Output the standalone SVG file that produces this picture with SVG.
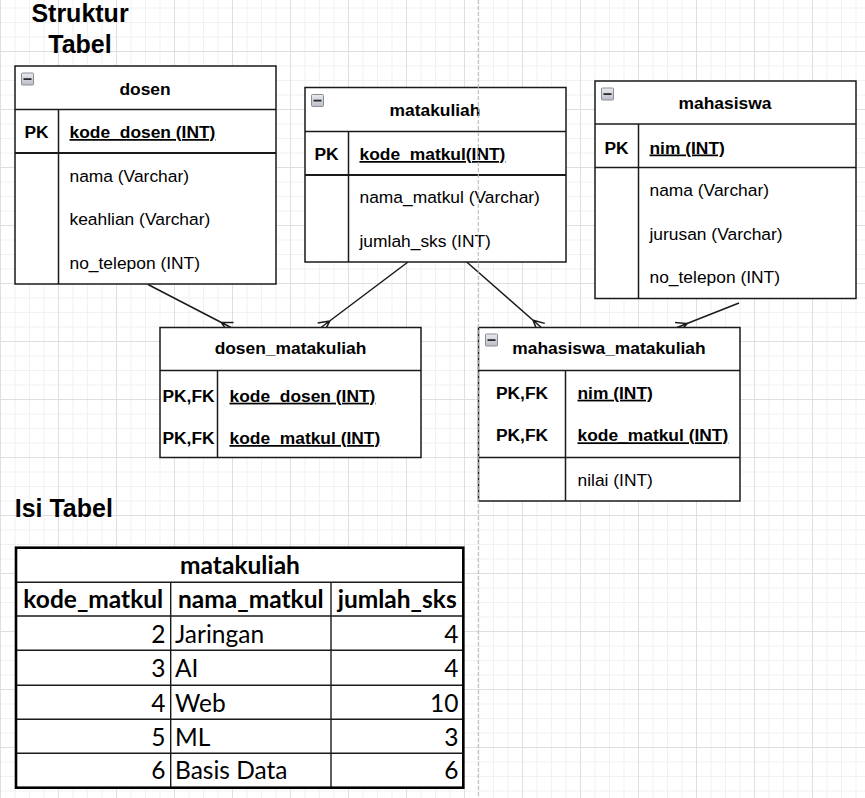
<svg xmlns="http://www.w3.org/2000/svg" xmlns:xlink="http://www.w3.org/1999/xlink" width="865" height="798" viewBox="0 0 865 798">
<style>
.t{font-family:"Liberation Sans",Arial,sans-serif;font-size:17.4px;fill:#000}
.b{font-weight:bold}
.u{text-decoration:underline}
.c{text-anchor:middle}
.r{text-anchor:end}
.h{font-family:"Liberation Sans",Arial,sans-serif;font-size:25px;font-weight:bold;fill:#000}
.x{font-family:Lato,"Open Sans",sans-serif;font-size:24.5px;fill:#000}
.box{fill:#fff;stroke:#1a1a1a;stroke-width:1.5}
.ln{stroke:#1a1a1a;stroke-width:1.5;fill:none}
.pk{stroke:#1a1a1a;stroke-width:2.2;fill:none}
.edge{stroke:#1a1a1a;stroke-width:1.5;fill:none;stroke-linejoin:miter}
.xl{stroke:#1a1a1a;stroke-width:1.4;fill:none}
</style>
<defs>
<pattern id="grid" patternUnits="userSpaceOnUse" x="0" y="-7" width="58" height="58">
<rect x="0" y="0" width="58" height="58" fill="#fff"/>
<rect x="14.5" y="0" width="1" height="58" fill="#f1f1f1"/>
<rect x="29" y="0" width="1" height="58" fill="#f1f1f1"/>
<rect x="43.5" y="0" width="1" height="58" fill="#f1f1f1"/>
<rect x="0" y="14.5" width="58" height="1" fill="#f1f1f1"/>
<rect x="0" y="29" width="58" height="1" fill="#f1f1f1"/>
<rect x="0" y="43.5" width="58" height="1" fill="#f1f1f1"/>
<rect x="0" y="0" width="1" height="58" fill="#dfdfdf"/>
<rect x="0" y="0" width="58" height="1" fill="#dfdfdf"/>
</pattern>
<linearGradient id="ig" x1="0" y1="0" x2="0" y2="1">
<stop offset="0" stop-color="#e9ebef"/>
<stop offset="1" stop-color="#b9bdc6"/>
</linearGradient>
<g id="minus">
<rect x="0.5" y="0.5" width="12" height="12" rx="1" fill="url(#ig)" stroke="#8a8e97" stroke-width="1"/>
<rect x="2.5" y="5.7" width="8" height="1.8" fill="#2a2a2a"/>
</g>
</defs>

<rect x="0" y="0" width="865" height="798" fill="url(#grid)"/>

<g id="title-struktur">
<text class="h c" x="80" y="21.7">Struktur</text>
<text class="h c" x="80" y="53.3">Tabel</text>
</g>

<g id="connectors">
<path class="edge" d="M148,284.5 L231,327.5 M233.5,322.6 L221.2,322.4 L228.5,332.4"/>
<path class="edge" d="M408,262 L321,327.5 M317.7,323.1 L329.8,320.9 L324.3,331.9"/>
<path class="edge" d="M466.7,262 L541.3,327.5 M544.8,323.4 L533,320.2 L537.6,331.6"/>
<path class="edge" d="M739,303 L677,327.5 M675,322.4 L687.2,323.5 L679,332.6"/>
</g>

<g id="dosen">
<rect class="box" x="15" y="66" width="261" height="218"/>
<line class="ln" x1="15" y1="109.5" x2="276" y2="109.5"/>
<line class="pk" x1="15" y1="153" x2="276" y2="153"/>
<line class="ln" x1="58.5" y1="109.5" x2="58.5" y2="284"/>
<use xlink:href="#minus" href="#minus" x="21" y="72.5"/>
<text class="t b c" x="145" y="95">dosen</text>
<text class="t b c" x="36.5" y="138">PK</text>
<text class="t b u" x="69.5" y="138">kode_dosen (INT)</text>
<text class="t" x="69.5" y="182">nama (Varchar)</text>
<text class="t" x="69.5" y="225.3">keahlian (Varchar)</text>
<text class="t" x="69.5" y="269.3">no_telepon (INT)</text>
</g>

<g id="matakuliah">
<rect class="box" x="305" y="87.5" width="261" height="174.5"/>
<line class="ln" x1="305" y1="131.5" x2="566" y2="131.5"/>
<line class="pk" x1="305" y1="175" x2="566" y2="175"/>
<line class="ln" x1="348.5" y1="131.5" x2="348.5" y2="262"/>
<use xlink:href="#minus" href="#minus" x="311" y="94"/>
<text class="t b c" x="435" y="116">matakuliah</text>
<text class="t b c" x="326.5" y="160">PK</text>
<text class="t b u" x="359.5" y="160">kode_matkul(INT)</text>
<text class="t" x="359.5" y="203.3">nama_matkul (Varchar)</text>
<text class="t" x="359.5" y="247.3">jumlah_sks (INT)</text>
</g>

<g id="mahasiswa">
<rect class="box" x="595" y="81" width="261" height="217.5"/>
<line class="ln" x1="595" y1="124" x2="856" y2="124"/>
<line class="ln" x1="595" y1="167.5" x2="856" y2="167.5"/>
<line class="ln" x1="638.5" y1="124" x2="638.5" y2="298.5"/>
<use xlink:href="#minus" href="#minus" x="601" y="87.5"/>
<text class="t b c" x="725" y="109">mahasiswa</text>
<text class="t b c" x="616.5" y="153.5">PK</text>
<text class="t b u" x="649.5" y="153.5">nim (INT)</text>
<text class="t" x="649.5" y="196">nama (Varchar)</text>
<text class="t" x="649.5" y="240">jurusan (Varchar)</text>
<text class="t" x="649.5" y="283.3">no_telepon (INT)</text>
</g>

<g id="dosen_matakuliah">
<rect class="box" x="160" y="327.5" width="261" height="130"/>
<line class="ln" x1="160" y1="370.5" x2="421" y2="370.5"/>
<line class="ln" x1="217.5" y1="370.5" x2="217.5" y2="457.5"/>
<text class="t b c" x="290.5" y="353.5">dosen_matakuliah</text>
<text class="t b c" x="188.5" y="401.7">PK,FK</text>
<text class="t b u" x="229.5" y="401.7">kode_dosen (INT)</text>
<text class="t b c" x="188.5" y="444">PK,FK</text>
<text class="t b u" x="229.5" y="444">kode_matkul (INT)</text>
</g>

<g id="mahasiswa_matakuliah">
<rect class="box" x="478.5" y="327.5" width="261.5" height="173.5"/>
<line class="ln" x1="478.5" y1="370.5" x2="740" y2="370.5"/>
<line class="ln" x1="478.5" y1="457.5" x2="740" y2="457.5"/>
<line class="ln" x1="565.5" y1="370.5" x2="565.5" y2="501"/>
<use xlink:href="#minus" href="#minus" x="485" y="333.5"/>
<text class="t b c" x="609" y="354">mahasiswa_matakuliah</text>
<text class="t b c" x="522" y="398.7">PK,FK</text>
<text class="t b u" x="577.5" y="398.7">nim (INT)</text>
<text class="t b c" x="522" y="441.3">PK,FK</text>
<text class="t b u" x="577.5" y="441.3">kode_matkul (INT)</text>
<text class="t" x="577.5" y="486">nilai (INT)</text>
</g>

<g id="title-isi">
<text class="h" x="14.7" y="516.7">Isi Tabel</text>
</g>

<g id="isi-matakuliah">
<rect x="16" y="547.7" width="447.3" height="240" fill="#fff"/>
<line class="xl" x1="16" y1="582.3" x2="463.3" y2="582.3"/>
<line class="xl" x1="16" y1="616" x2="463.3" y2="616"/>
<line class="xl" x1="16" y1="650.3" x2="463.3" y2="650.3"/>
<line class="xl" x1="16" y1="685.3" x2="463.3" y2="685.3"/>
<line class="xl" x1="16" y1="719.3" x2="463.3" y2="719.3"/>
<line class="xl" x1="16" y1="753.3" x2="463.3" y2="753.3"/>
<line class="xl" x1="170.7" y1="582.3" x2="170.7" y2="787.7"/>
<line class="xl" x1="331" y1="582.3" x2="331" y2="787.7"/>
<rect x="16" y="547.7" width="447.3" height="240" fill="none" stroke="#000" stroke-width="2.6"/>
<text class="x b c" x="240" y="574">matakuliah</text>
<text class="x b c" x="93.3" y="608.3">kode_matkul</text>
<text class="x b c" x="250.8" y="608.3">nama_matkul</text>
<text class="x b c" x="397.2" y="608.3">jumlah_sks</text>
<text class="x r" x="165.5" y="642.7">2</text>
<text class="x" x="175" y="642.7">Jaringan</text>
<text class="x r" x="458.5" y="642.7">4</text>
<text class="x r" x="165.5" y="676.7">3</text>
<text class="x" x="175" y="676.7">AI</text>
<text class="x r" x="458.5" y="676.7">4</text>
<text class="x r" x="165.5" y="711.7">4</text>
<text class="x" x="175" y="711.7">Web</text>
<text class="x r" x="458.5" y="711.7">10</text>
<text class="x r" x="165.5" y="745.7">5</text>
<text class="x" x="175" y="745.7">ML</text>
<text class="x r" x="458.5" y="745.7">3</text>
<text class="x r" x="165.5" y="779.3">6</text>
<text class="x" x="175" y="779.3">Basis Data</text>
<text class="x r" x="458.5" y="779.3">6</text>
</g>

<line x1="478.3" y1="0" x2="478.3" y2="798" stroke="#b4b4b4" stroke-width="1" stroke-dasharray="4 2"/>
</svg>
